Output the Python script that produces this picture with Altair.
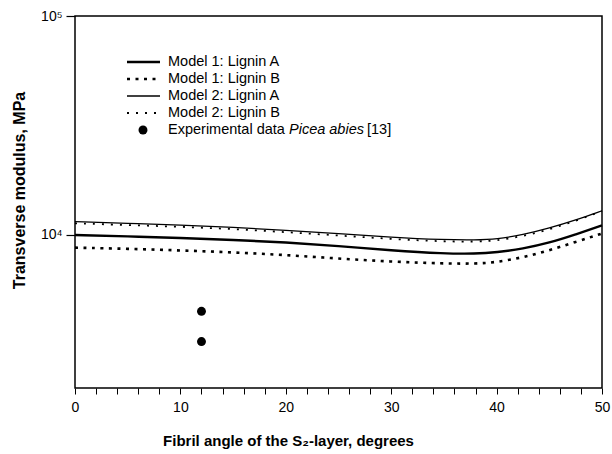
import altair as alt
import pandas as pd

FONT = "Liberation Sans"

# ---- data ----
ANGLE = [0, 5, 10, 15, 20, 25, 30, 35, 38, 40, 42.5, 45, 47.5, 50]
M1_LIGNIN_A = [10000, 9850, 9700, 9500, 9250, 8900, 8500, 8220, 8200, 8330, 8650, 9200, 10050, 11050]
M1_LIGNIN_B = [8750, 8650, 8500, 8330, 8100, 7800, 7550, 7400, 7390, 7500, 7900, 8500, 9300, 10150]
M2_LIGNIN_A = [11500, 11300, 11100, 10850, 10500, 10150, 9750, 9500, 9480, 9560, 10030, 10750, 11700, 12900]
M2_LIGNIN_B = [11300, 11100, 10900, 10650, 10300, 9950, 9580, 9330, 9320, 9420, 9870, 10600, 11600, 12850]

EXP_ANGLE = [12, 12]
EXP_VALUE = [4480, 3260]

SERIES = ["Model 1: Lignin A", "Model 1: Lignin B", "Model 2: Lignin A", "Model 2: Lignin B"]
EXP_LABEL = ["Experimental data ", "Picea abies", "[13]"]

X_TICKS = list(range(0, 51, 2))
Y_TICKS = [10000, 100000]

W, H = 527, 372

xs = alt.Scale(domain=[0, 50], nice=False)
ys = alt.Scale(type="log", domain=[2000, 100000], nice=False)

x_axis = alt.Axis(
    values=X_TICKS, labelExpr="datum.value % 10 == 0 ? datum.label : ''",
    title="Fibril angle of the S\u2082-layer, degrees", grid=False, domain=False,
    tickSize=6, tickColor="black", tickWidth=1, labelPadding=6, labelFontSize=14,
    labelFlush=False, labelOverlap=False,
    labelColor="black", titleFontSize=15, titleFontWeight="bold", titleColor="black",
    titleX=213, titleY=52, titleAlign="center", titleBaseline="middle",
)
y_axis = alt.Axis(
    values=Y_TICKS,
    labelExpr="datum.value == 10000 ? '10\u2074' : (datum.value == 100000 ? '10\u2075' : '')",
    title="Transverse modulus, MPa", grid=False, domain=False,
    tickSize=9, tickColor="black", tickWidth=1.2, labelPadding=4, labelFontSize=14,
    labelFlush=False,
    labelColor="black", titleFontSize=16, titleFontWeight="bold", titleColor="black",
    titleX=-56, titleY=174, titleAngle=270, titleAlign="center", titleBaseline="middle",
)

X_ENC = alt.X("angle:Q", scale=xs, axis=x_axis)
Y_ENC = alt.Y("modulus:Q", scale=ys, axis=y_axis)

styles = [
    dict(strokeWidth=2.4),
    dict(strokeWidth=2.6, strokeDash=[3, 5.5]),
    dict(strokeWidth=1.3),
    dict(strokeWidth=1.8, strokeDash=[2, 7]),
]
values = [M1_LIGNIN_A, M1_LIGNIN_B, M2_LIGNIN_A, M2_LIGNIN_B]

layers = []
for i, (name, vals) in enumerate(zip(SERIES, values)):
    df = pd.DataFrame({"angle": ANGLE, "modulus": vals})
    layers.append(
        alt.Chart(df).mark_line(color="black", interpolate="basis", **styles[i])
        .encode(x=X_ENC, y=Y_ENC)
    )

exp_df = pd.DataFrame({"angle": EXP_ANGLE, "modulus": EXP_VALUE})
layers.append(
    alt.Chart(exp_df).mark_circle(color="black", opacity=1, size=80)
    .encode(x=X_ENC, y=Y_ENC)
)

# ---- legend (inside plot, top-left) ----
ROW_Y = [46, 63, 80, 97, 114]
SYM_X1, SYM_X2, TXT_X = 52, 85, 93
one = pd.DataFrame({"k": [0]})
for i, name in enumerate(SERIES):
    layers.append(
        alt.Chart(one).mark_rule(color="black", **styles[i])
        .encode(x=alt.value(SYM_X1), x2=alt.value(SYM_X2), y=alt.value(ROW_Y[i]))
    )
    layers.append(
        alt.Chart(one).mark_text(align="left", baseline="middle", font=FONT,
                                 fontSize=14.5, color="black")
        .encode(x=alt.value(TXT_X), y=alt.value(ROW_Y[i]), text=alt.value(name))
    )
layers.append(
    alt.Chart(one).mark_circle(color="black", opacity=1, size=80)
    .encode(x=alt.value(68), y=alt.value(ROW_Y[4]))
)
exp_x = [TXT_X, TXT_X + 121, TXT_X + 199]
exp_style = ["normal", "italic", "normal"]
for txt, xx, st in zip(EXP_LABEL, exp_x, exp_style):
    layers.append(
        alt.Chart(one).mark_text(align="left", baseline="middle", font=FONT,
                                 fontSize=14.5, color="black", fontStyle=st)
        .encode(x=alt.value(xx), y=alt.value(ROW_Y[4]), text=alt.value(txt.strip()))
    )

chart = (
    alt.layer(*layers)
    .properties(width=W, height=H,
                autosize=alt.AutoSizeParams(type="none"),
                padding={"left": 75, "top": 16, "right": 10, "bottom": 66})
    .configure(font=FONT, background="white")
    .configure_view(stroke="black", strokeWidth=1.5)
)

chart.save("out.html", embed_options={"renderer": "svg", "actions": False})
